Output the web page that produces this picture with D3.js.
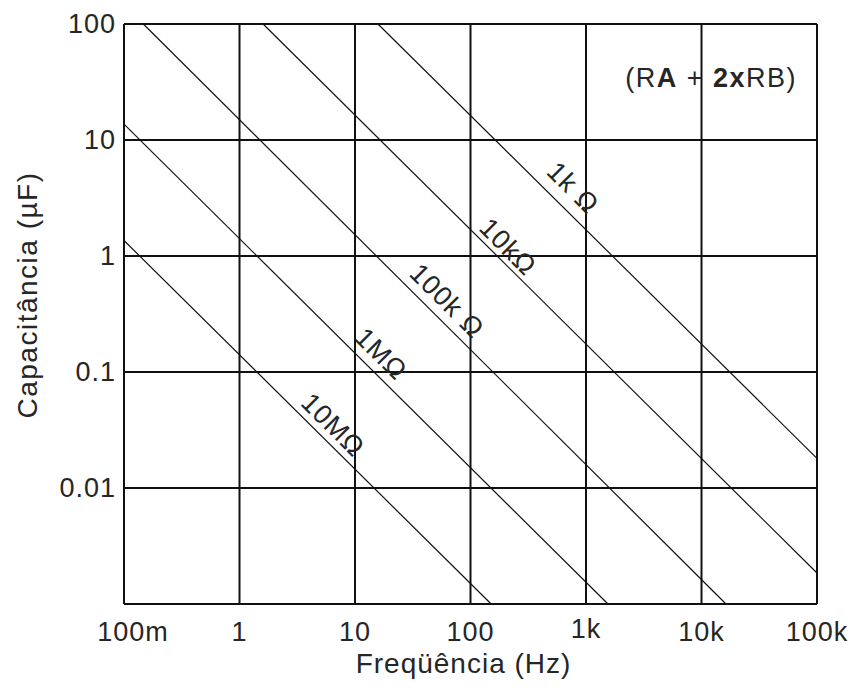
<!DOCTYPE html>
<html lang="pt">

<head>
    <meta charset="UTF-8">
    <title>Frequência x Capacitância</title>
    <style>
        * {
            margin: 0;
            padding: 0;
        }

        body {
            background: #fff;
        }

        text {
            font-family: "Liberation Sans", Arial, sans-serif;
            fill: #262626;
        }
    </style>
</head>

<body>
    <div id="chart"></div>
    <script src="https://cdn.jsdelivr.net/npm/d3@7"></script>
    <script>
        // eixo x: frequência (Hz)
        const xTickValues = [0.1, 1, 10, 100, 1000, 10000, 100000]
        const xTickLabels = ['100m', '1', '10', '100', '1k', '10k', '100k']
        // eixo y: capacitância (µF)
        const yTickValues = [100, 10, 1, 0.1, 0.01]
        const yTickLabels = ['100', '10', '1', '0.1', '0.01']

        const resistorNames = ['1k Ω', '10kΩ', '100k Ω', '1MΩ', '10MΩ']
        const lineStart = [[15.8, 100], [1.6, 100], [0.147, 100], [0.1, 13.7], [0.1, 1.36]]
        const lineEnd = [[100000, 0.018], [100000, 0.00185], [16300, 0.001], [1550, 0.001], [151, 0.001]]
        const labelPos = [[771, 3.86], [211, 1.2], [62.6, 0.41], [16.8, 0.143], [6.45, 0.035]]

        const width = 858
        const height = 688
        const margin = { top: 24, right: 41, bottom: 84, left: 124 }
        const innerW = width - margin.left - margin.right
        const innerH = height - margin.top - margin.bottom

        const svg = d3.select('#chart')
            .append('svg')
            .attr('width', width)
            .attr('height', height)
            .style('background', '#fff')

        const bounds = svg.append('g')
            .attr('transform', `translate(${margin.left}, ${margin.top})`)

        const x = d3.scaleLog().domain([0.1, 100000]).range([0, innerW])
        const y = d3.scaleLog().domain([0.001, 100]).range([innerH, 0])

        // grade
        bounds.append('g')
            .selectAll('line')
            .data(xTickValues)
            .join('line')
            .attr('x1', d => x(d))
            .attr('x2', d => x(d))
            .attr('y1', 0)
            .attr('y2', innerH)
            .attr('stroke', '#111')
            .attr('stroke-width', 2)

        bounds.append('g')
            .selectAll('line')
            .data([0.001, ...yTickValues])
            .join('line')
            .attr('x1', 0)
            .attr('x2', innerW)
            .attr('y1', d => y(d))
            .attr('y2', d => y(d))
            .attr('stroke', '#111')
            .attr('stroke-width', 2)

        // retas
        const lines = resistorNames.map((name, i) => ({ name, a: lineStart[i], b: lineEnd[i], l: labelPos[i] }))

        bounds.append('g')
            .selectAll('line')
            .data(lines)
            .join('line')
            .attr('x1', d => x(d.a[0]))
            .attr('y1', d => y(d.a[1]))
            .attr('x2', d => x(d.b[0]))
            .attr('y2', d => y(d.b[1]))
            .attr('stroke', '#111')
            .attr('stroke-width', 1.2)

        bounds.append('g')
            .selectAll('text')
            .data(lines)
            .join('text')
            .attr('transform', d => `translate(${x(d.l[0])}, ${y(d.l[1])}) rotate(45)`)
            .attr('text-anchor', 'middle')
            .attr('dominant-baseline', 'central')
            .style('font-size', '27px')
            .style('letter-spacing', '1px')
            .text(d => d.name)

        // rótulos dos eixos
        bounds.append('g')
            .selectAll('text')
            .data(xTickValues)
            .join('text')
            .attr('x', (d, i) => x(d) + (i === 0 ? 9 : 0))
            .attr('y', (d, i) => innerH + (i === 4 ? 25 : 28))
            .attr('text-anchor', 'middle')
            .attr('dominant-baseline', 'central')
            .style('font-size', '27px')
            .style('letter-spacing', '1px')
            .text((d, i) => xTickLabels[i])

        bounds.append('g')
            .selectAll('text')
            .data(yTickValues)
            .join('text')
            .attr('x', -8)
            .attr('y', d => y(d))
            .attr('text-anchor', 'end')
            .attr('dominant-baseline', 'central')
            .style('font-size', '27px')
            .style('letter-spacing', '1px')
            .text((d, i) => yTickLabels[i])

        svg.append('text')
            .attr('x', margin.left + innerW / 2 - 7)
            .attr('y', height - 15)
            .attr('text-anchor', 'middle')
            .style('font-size', '28px')
            .style('letter-spacing', '1px')
            .text('Freqüência (Hz)')

        svg.append('text')
            .attr('transform', `translate(37, 295) rotate(-90)`)
            .attr('text-anchor', 'middle')
            .style('font-size', '28px')
            .style('letter-spacing', '1.5px')
            .text('Capacitância (µF)')

        // fórmula
        const formula = bounds.append('text')
            .attr('x', x(100000) - 20)
            .attr('y', 54)
            .attr('text-anchor', 'end')
            .attr('dominant-baseline', 'central')
            .style('font-size', '27px')
            .style('letter-spacing', '1.5px')
        formula.append('tspan').text('(R')
        formula.append('tspan').text('A').style('font-weight', 700)
        formula.append('tspan').text(' + ')
        formula.append('tspan').text('2x').style('font-weight', 700)
        formula.append('tspan').text('RB)')
    </script>
</body>

</html>
